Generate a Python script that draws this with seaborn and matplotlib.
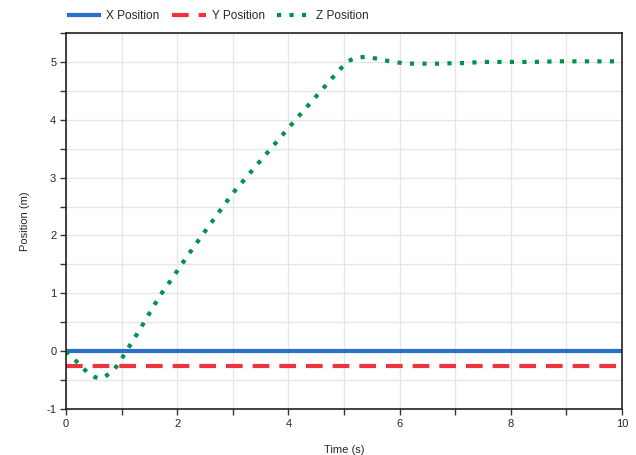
import matplotlib
matplotlib.use("Agg")
import matplotlib.pyplot as plt
import seaborn as sns
import pandas as pd
import numpy as np
from matplotlib.ticker import MultipleLocator

# ---- data ----
x_time = [0, 10]
x_pos = [0.0, 0.0]
y_time = [0, 10]
y_pos = [-0.25, -0.25]
z_time = [0.0, 0.13, 0.26, 0.40, 0.52, 0.61, 0.70, 0.84, 0.95, 1.04, 1.13, 1.32, 1.51,
          1.69, 1.89, 2.08, 2.29, 2.59, 3.0, 3.46, 3.79, 4.12, 4.45, 4.75, 5.05, 5.2,
          5.41, 5.62, 5.83, 6.04, 6.24, 6.48, 6.76, 6.97, 7.21, 7.45, 7.66, 8.4, 8.85,
          9.8, 10.0]
z_pos = [0.0, -0.12, -0.25, -0.38, -0.45, -0.47, -0.44, -0.35, -0.21, -0.07, 0.07,
         0.36, 0.67, 0.96, 1.23, 1.5, 1.79, 2.19, 2.73, 3.25, 3.62, 3.99, 4.35, 4.68,
         5.0, 5.07, 5.09, 5.05, 5.01, 4.98, 4.97, 4.97, 4.97, 4.98, 4.98, 5.0, 5.0,
         5.0, 5.01, 5.01, 5.01]
series_names = ["X Position", "Y Position", "Z Position"]

df = pd.concat([
    pd.DataFrame({"t": x_time, "v": x_pos, "s": series_names[0]}),
    pd.DataFrame({"t": y_time, "v": y_pos, "s": series_names[1]}),
    pd.DataFrame({"t": z_time, "v": z_pos, "s": series_names[2]}),
], ignore_index=True)

sns.set_theme(style="white")
plt.rcParams['font.family'] = ['Liberation Sans', 'DejaVu Sans']
plt.rcParams['axes.unicode_minus'] = False

fig = plt.figure(figsize=(6.36, 4.55), dpi=100)
ax = fig.add_axes([66/636, 1-409/455, (622-66)/636, (409-33)/455])

palette = {"X Position": "#2a6fc9", "Y Position": "#f0323a", "Z Position": "#00914a"}
dashes = {"X Position": "", "Y Position": (4, 2.4), "Z Position": (1, 2)}
sns.lineplot(data=df, x="t", y="v", hue="s", style="s", palette=palette,
             dashes=dashes, linewidth=3, ax=ax, legend=True, sort=False)
for ln in ax.lines:
    ln.set_dash_capstyle("butt")
    ln.set_solid_capstyle("butt")

ax.set_xlim(0, 10)
ax.set_ylim(-1, 5.5)
ax.xaxis.set_major_locator(MultipleLocator(2))
ax.xaxis.set_minor_locator(MultipleLocator(1))
ax.yaxis.set_major_locator(MultipleLocator(1))
ax.yaxis.set_minor_locator(MultipleLocator(0.5))
ax.grid(True, which="both", color="#e6e6e6", linewidth=1)
ax.set_axisbelow(True)
ax.tick_params(which="both", direction="out", length=4, width=1, color="#333333",
               labelsize=8, pad=3, bottom=True, left=True)
for sp in ax.spines.values():
    sp.set_color("#222222")
    sp.set_linewidth(1.2)
ax.set_xlabel("Time (s)", fontsize=8, labelpad=12)
ax.set_ylabel("Position (m)", fontsize=8, labelpad=12)

leg = ax.legend(loc="lower left", bbox_to_anchor=(-0.005, 1.02), ncol=3, frameon=False,
                fontsize=8.5, handlelength=2.9, columnspacing=1.05, handletextpad=0.45,
                borderaxespad=0.0, borderpad=0.3)
for h in leg.get_lines():
    h.set_linewidth(3)

fig.savefig("out.png", dpi=100)
